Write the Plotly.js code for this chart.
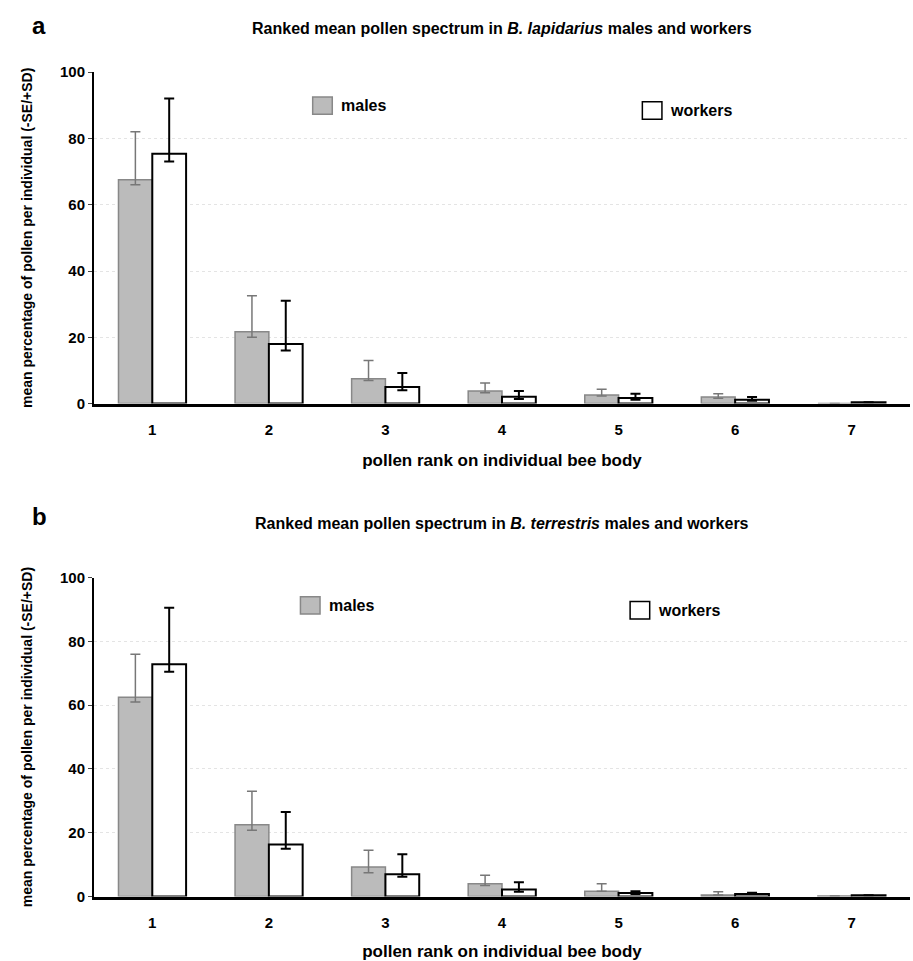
<!DOCTYPE html>
<html><head><script src="https://cdn.plot.ly/plotly-3.0.1.min.js"></script></head>
<body style="margin:0"><div id="c" style="width:913px;height:961px"></div>
<script>
const ranks = ['1','2','3','4','5','6','7'];
const aMales = [67.5, 21.7, 7.5, 3.8, 2.6, 2.0, 0];
const aMalesPlus = [14.5, 10.8, 5.5, 2.4, 1.7, 1.0, 0];
const aMalesMinus = [1.5, 1.7, 0.5, 0.5, 0.3, 0.4, 0];
const aWorkers = [75.4, 18.0, 5.0, 2.1, 1.7, 1.2, 0.4];
const aWorkersPlus = [16.6, 13.0, 4.2, 1.7, 1.3, 0.8, 0];
const aWorkersMinus = [2.4, 2.0, 1.0, 0.7, 0.5, 0.3, 0];
const bMales = [62.5, 22.5, 9.3, 4.0, 1.7, 0.5, 0.2];
const bMalesPlus = [13.5, 10.5, 5.2, 2.7, 2.3, 1.0, 0];
const bMalesMinus = [1.5, 1.7, 1.8, 0.5, 0, 0, 0];
const bWorkers = [72.8, 16.3, 7.0, 2.2, 1.1, 0.8, 0.4];
const bWorkersPlus = [17.7, 10.2, 6.3, 2.3, 0.6, 0.4, 0];
const bWorkersMinus = [2.3, 1.3, 0.8, 0.7, 0.3, 0, 0];

function mk(y, plus, minus, male, xa, ya){
  return {type:'bar', x:ranks, y:y, xaxis:xa, yaxis:ya, showlegend:false,
    marker:{color: male?'#bbbbbb':'#ffffff', line:{color: male?'#888888':'#000000', width: male?1.5:2}},
    error_y:{type:'data', symmetric:false, array:plus, arrayminus:minus,
      color: male?'#777777':'#000000', thickness: male?1.5:2, width:5}};
}
const data = [
  mk(aMales,aMalesPlus,aMalesMinus,true,'x','y'),
  mk(aWorkers,aWorkersPlus,aWorkersMinus,false,'x','y'),
  mk(bMales,bMalesPlus,bMalesMinus,true,'x2','y2'),
  mk(bWorkers,bWorkersPlus,bWorkersMinus,false,'x2','y2')
];
const f = {family:'Liberation Sans, Arial', size:14, color:'#000'};
function xax(anchor){return {anchor:anchor, domain:[0,1], showline:true, linecolor:'#000', linewidth:3, ticks:'', ticklabelstandoff:10, tickfont:{...f, size:15, weight:'bold'}, fixedrange:true,
  title:{text:'<b>pollen rank on individual bee body</b>', font:{...f,size:17}, standoff:18}};}
function yax(anchor, dom){return {anchor:anchor, domain:dom, range:[0,100], dtick:20, showline:true, linecolor:'#000', linewidth:2, ticks:'outside', ticklen:4,
  gridcolor:'#e4e4e4', griddash:'dot', tickfont:{...f, size:15, weight:'bold'}, zeroline:false,
  title:{text:'<b>mean percentage of pollen per individual (-SE/+SD)</b>', font:{...f,size:14}, standoff:24}};}
const shapes = [], annotations = [];
function leg(x, y, txt, male){
  shapes.push({type:'rect', xref:'paper', yref:'paper', x0:x, x1:x+0.024, y0:y-0.009, y1:y+0.009,
    fillcolor: male?'#bbbbbb':'#fff', line:{color: male?'#888':'#000', width:1.5}});
  annotations.push({xref:'paper', yref:'paper', x:x+0.032, y:y, xanchor:'left', yanchor:'middle', showarrow:false, text:'<b>'+txt+'</b>', font:{...f,size:16}});
}
leg(0.268, 0.89, 'males', true); leg(0.672, 0.885, 'workers', false);
leg(0.253, 0.370, 'males', true); leg(0.657, 0.365, 'workers', false);
annotations.push({xref:'paper',yref:'paper',x:-0.078,y:0.99,xanchor:'left',showarrow:false,text:'<b>a</b>',font:{...f,size:24}});
annotations.push({xref:'paper',yref:'paper',x:-0.078,y:0.463,xanchor:'left',showarrow:false,text:'<b>b</b>',font:{...f,size:24}});
annotations.push({xref:'paper',yref:'paper',x:0.5,y:0.981,xanchor:'center',showarrow:false,text:'<b>Ranked mean pollen spectrum in <i>B. lapidarius</i> males and workers</b>',font:{...f,size:16}});
annotations.push({xref:'paper',yref:'paper',x:0.5,y:0.455,xanchor:'center',showarrow:false,text:'<b>Ranked mean pollen spectrum in <i>B. terrestris</i> males and workers</b>',font:{...f,size:16}});
const layout = {width:913, height:961, margin:{l:94, r:3, t:0, b:0}, paper_bgcolor:'#fff', plot_bgcolor:'#fff',
  barmode:'group', bargap:0.42, bargroupgap:0,
  xaxis: xax('y'), yaxis: yax('x',[0.580,0.925]),
  xaxis2: xax('y2'), yaxis2: yax('x2',[0.067,0.399]),
  shapes:shapes, annotations:annotations};
Plotly.newPlot('c', data, layout, {displayModeBar:false, staticPlot:true});
</script></body></html>
